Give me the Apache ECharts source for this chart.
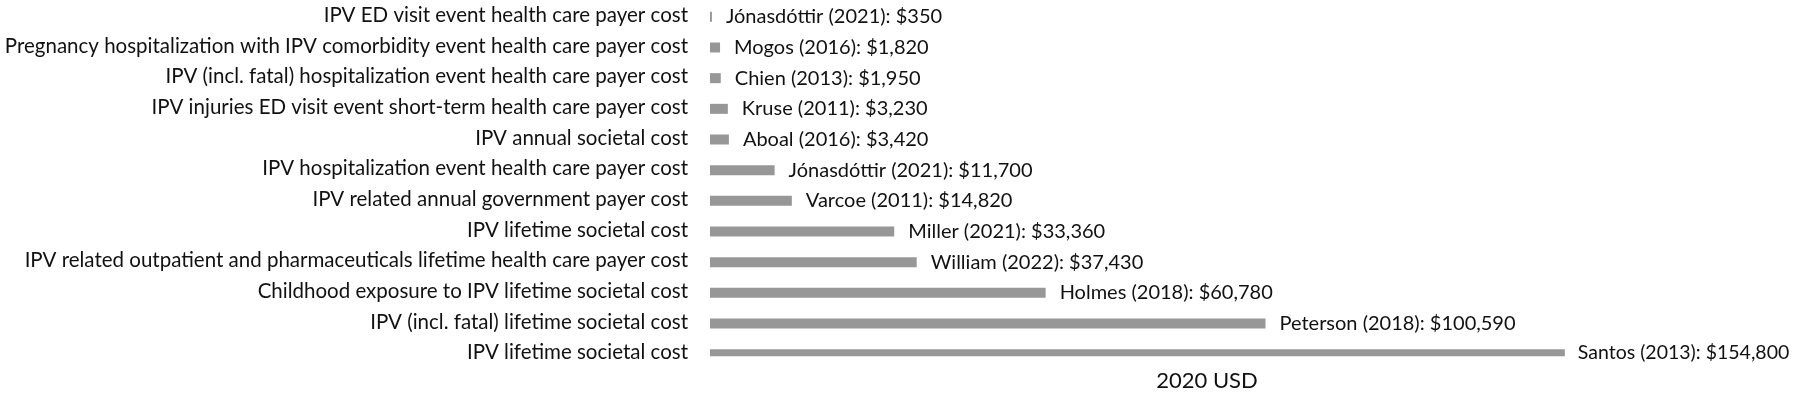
<!DOCTYPE html>
<html>
<head>
<meta charset="utf-8">
<script src="https://cdn.jsdelivr.net/npm/echarts@6/dist/echarts.min.js"></script>
<style>
  html, body { margin: 0; padding: 0; background: #fff; }
  #chart { width: 1800px; height: 397px; }
</style>
</head>
<body>
<div id="chart"></div>
<script>
// rows listed top to bottom
let categories = [
  'IPV ED visit event health care payer cost',
  'Pregnancy hospitalization with IPV comorbidity event health care payer cost',
  'IPV (incl. fatal) hospitalization event health care payer cost',
  'IPV injuries ED visit event short-term health care payer cost',
  'IPV annual societal cost',
  'IPV hospitalization event health care payer cost',
  'IPV related annual government payer cost',
  'IPV lifetime societal cost',
  'IPV related outpatient and pharmaceuticals lifetime health care payer cost',
  'Childhood exposure to IPV lifetime societal cost',
  'IPV (incl. fatal) lifetime societal cost',
  'IPV lifetime societal cost'
];
let sources = [
  'Jónasdóttir (2021)', 'Mogos (2016)', 'Chien (2013)', 'Kruse (2011)',
  'Aboal (2016)', 'Jónasdóttir (2021)', 'Varcoe (2011)', 'Miller (2021)',
  'William (2022)', 'Holmes (2018)', 'Peterson (2018)', 'Santos (2013)'
];
let costs = [350, 1820, 1950, 3230, 3420, 11700, 14820, 33360, 37430, 60780, 100590, 154800];

// last row is drawn thinner in the original, so it gets its own series
let mainCosts = costs.map((v, i) => i === costs.length - 1 ? '-' : v);
let lastCosts = costs.map((v, i) => i === costs.length - 1 ? v : '-');

let font = 'Lato';

function fmt(p){
  return sources[p.dataIndex] + ': $' + costs[p.dataIndex].toLocaleString('en-US');
}

let chart = echarts.init(document.getElementById('chart'));

chart.setOption({
  animation: false,
  grid: { left: 710, right: 96, top: 0, bottom: 27, containLabel: false },
  xAxis: {
    type: 'value',
    min: 0,
    max: 180000,
    axisLine: { show: false },
    axisTick: { show: false },
    axisLabel: { show: false },
    splitLine: { show: false },
    name: '2020 USD',
    nameLocation: 'middle',
    nameGap: 2,
    nameTextStyle: { fontFamily: font, fontSize: 22, color: '#111' }
  },
  yAxis: {
    type: 'category',
    inverse: true,
    data: categories,
    axisLine: { show: false },
    axisTick: { show: false },
    axisLabel: { margin: 22, fontFamily: font, fontSize: 20.5, color: '#111' }
  },
  series: [
    {
      type: 'bar',
      data: mainCosts,
      barWidth: 10,
      barGap: '-100%',
      itemStyle: { color: '#979797' },
      label: {
        show: true, position: 'right', distance: 14,
        fontFamily: font, fontSize: 20, color: '#111',
        formatter: fmt
      }
    },
    {
      type: 'bar',
      data: lastCosts,
      barWidth: 7,
      itemStyle: { color: '#979797' },
      label: {
        show: true, position: 'right', distance: 13,
        fontFamily: font, fontSize: 19.5, color: '#111',
        formatter: fmt
      }
    }
  ]
});
</script>
</body>
</html>
